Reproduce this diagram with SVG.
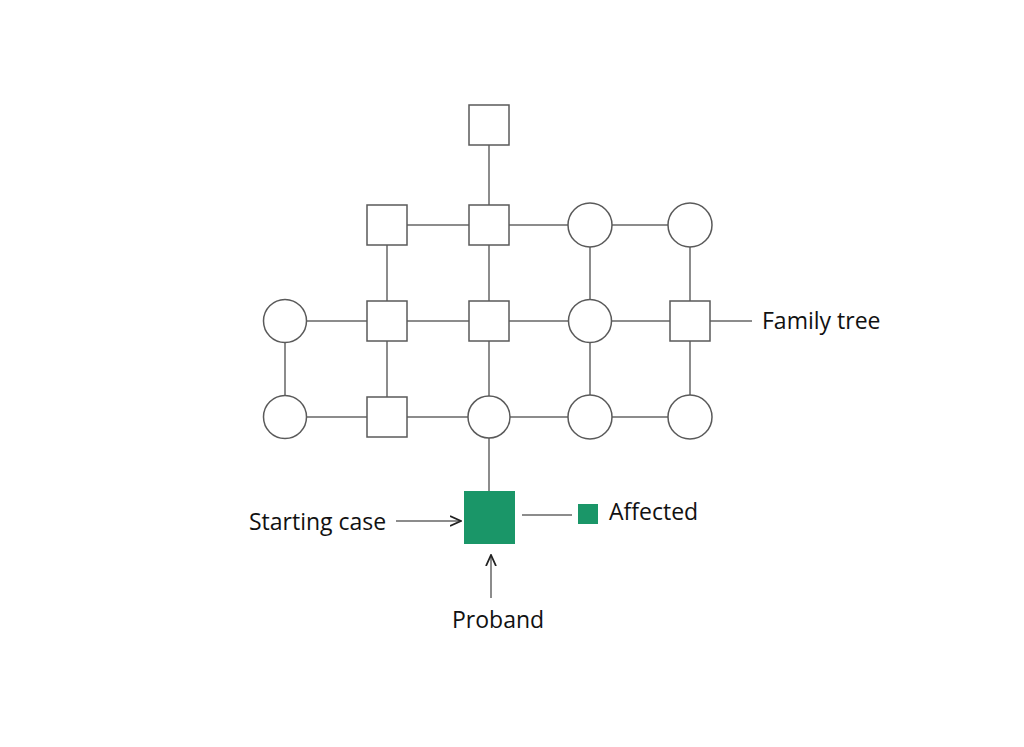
<svg xmlns="http://www.w3.org/2000/svg" width="1024" height="747" viewBox="0 0 1024 747">
<defs>
<style>
.ln{stroke:#666;stroke-width:1.5;fill:none}
.nd{fill:#fff;stroke:#5a5a5a;stroke-width:1.5}
.lbl{font-family:"Open Sans","Liberation Sans",sans-serif;font-size:23px;fill:#111}
.aff{fill:#1a9668}
</style>
<marker id="ah" viewBox="0 0 12 12" refX="11" refY="6" markerWidth="12" markerHeight="12" markerUnits="userSpaceOnUse" orient="auto">
<path d="M0,1 L11,6 L0,11" fill="none" stroke="#222" stroke-width="1.8"/>
</marker>
</defs>
<rect width="1024" height="747" fill="#fff"/>
<g id="connectors">
<line class="ln" x1="489" y1="145" x2="489" y2="491"/>
<line class="ln" x1="387" y1="225" x2="387" y2="417"/>
<line class="ln" x1="285" y1="321" x2="285" y2="417"/>
<line class="ln" x1="590" y1="225" x2="590" y2="417"/>
<line class="ln" x1="690" y1="225" x2="690" y2="417"/>
<line class="ln" x1="387" y1="225" x2="690" y2="225"/>
<line class="ln" x1="285" y1="321" x2="752" y2="321"/>
<line class="ln" x1="285" y1="417" x2="690" y2="417"/>
<line class="ln" x1="522" y1="515" x2="572" y2="515"/>
<line class="ln" x1="396" y1="521" x2="461" y2="521" stroke="#333" marker-end="url(#ah)"/>
<line class="ln" x1="491" y1="598" x2="491" y2="555" stroke="#333" marker-end="url(#ah)"/>
</g>
<g id="n-top"><rect class="nd" x="469" y="105" width="40" height="40"/></g>
<g id="n-r1a"><rect class="nd" x="367" y="205" width="40" height="40"/></g>
<g id="n-r1b"><rect class="nd" x="469" y="205" width="40" height="40"/></g>
<g id="n-r1c"><circle class="nd" cx="590" cy="225" r="22"/></g>
<g id="n-r1d"><circle class="nd" cx="690" cy="225" r="22"/></g>
<g id="n-r2a"><circle class="nd" cx="285" cy="321" r="21.5"/></g>
<g id="n-r2b"><rect class="nd" x="367" y="301" width="40" height="40"/></g>
<g id="n-r2c"><rect class="nd" x="469" y="301" width="40" height="40"/></g>
<g id="n-r2d"><circle class="nd" cx="590" cy="321" r="21.5"/></g>
<g id="n-r2e"><rect class="nd" x="670" y="301" width="40" height="40"/></g>
<g id="n-r3a"><circle class="nd" cx="285" cy="417" r="21.5"/></g>
<g id="n-r3b"><rect class="nd" x="367" y="397" width="40" height="40"/></g>
<g id="n-r3c"><circle class="nd" cx="489" cy="417" r="21"/></g>
<g id="n-r3d"><circle class="nd" cx="590" cy="417" r="22"/></g>
<g id="n-r3e"><circle class="nd" cx="690" cy="417" r="22"/></g>
<g id="n-proband"><rect class="aff" x="464" y="491" width="51" height="53"/></g>
<g id="legend"><rect class="aff" x="578" y="504" width="20" height="20"/><text class="lbl" x="609" y="520">Affected</text></g>
<g id="labels">
<text class="lbl" x="762" y="329">Family tree</text>
<text class="lbl" x="249" y="530">Starting case</text>
<text class="lbl" x="452" y="628">Proband</text>
</g>
</svg>
